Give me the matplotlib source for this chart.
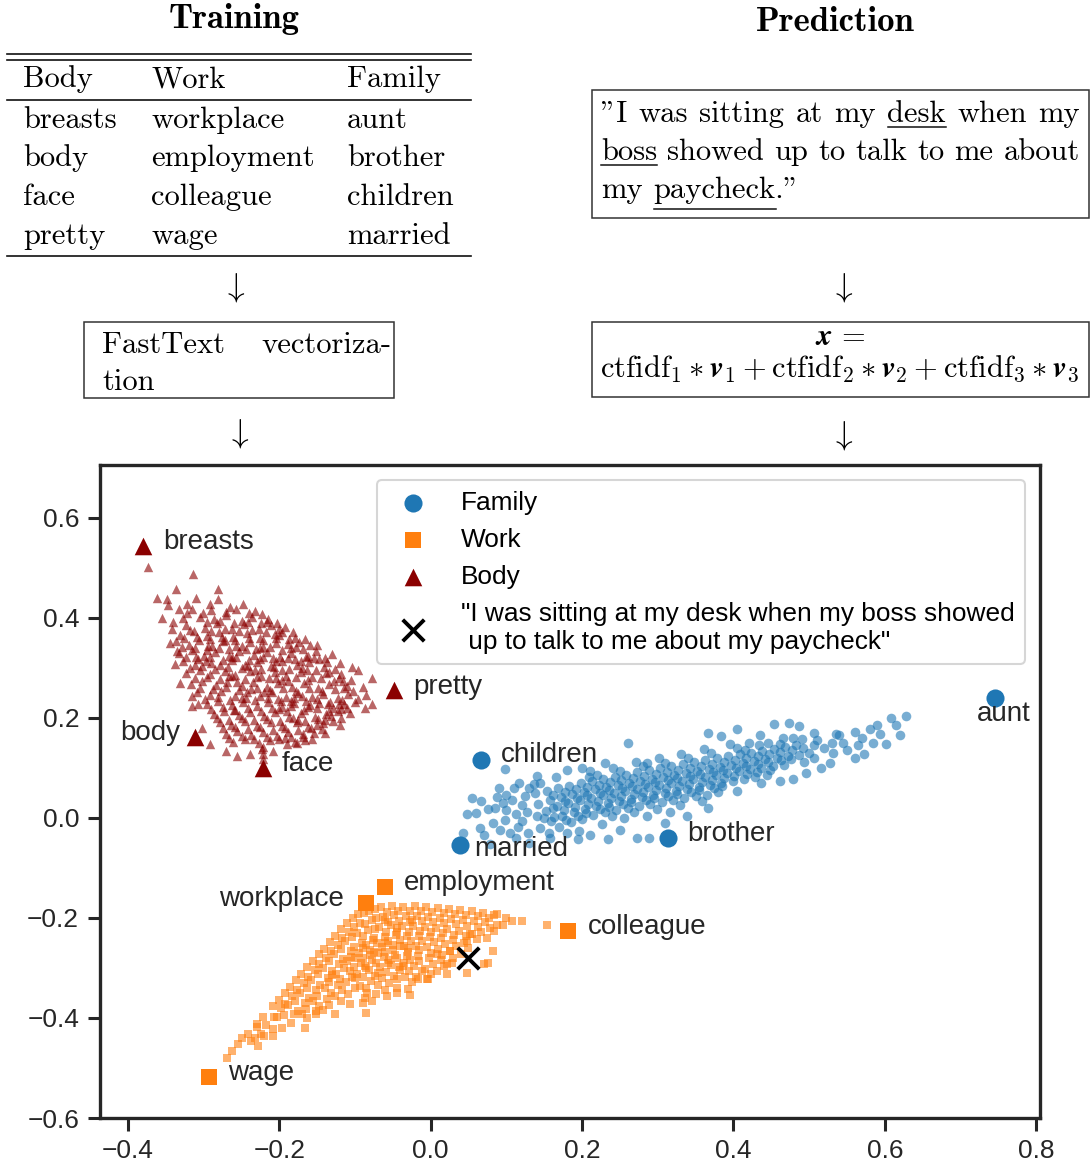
import numpy as np
import matplotlib
matplotlib.use("Agg")
import matplotlib.pyplot as plt
from matplotlib.transforms import Affine2D
from matplotlib.patches import Rectangle
from matplotlib.lines import Line2D
from matplotlib.ticker import FuncFormatter

W, H = 1090, 1167

# seed words per category (table columns and labelled points)
BODY_WORDS = ["breasts", "body", "face", "pretty"]
WORK_WORDS = ["workplace", "employment", "colleague", "wage"]
FAMILY_WORDS = ["aunt", "brother", "children", "married"]

# 2-d projection of the seed word vectors
BODY_SEED_X = [-0.380, -0.312, -0.222, -0.048]
BODY_SEED_Y = [0.544, 0.162, 0.100, 0.256]
WORK_SEED_X = [-0.086, -0.061, 0.182, -0.293]
WORK_SEED_Y = [-0.170, -0.138, -0.226, -0.518]
FAMILY_SEED_X = [0.745, 0.313, 0.066, 0.038]
FAMILY_SEED_Y = [0.240, -0.040, 0.116, -0.054]

SENTENCE = ('"I was sitting at my desk when my boss showed\n'
            ' up to talk to me about my paycheck"')
SENTENCE_X, SENTENCE_Y = 0.049, -0.280

# projected vectors of the expanded vocabulary
BODY_CLOUD = [
    (-0.373, 0.502), (-0.314, 0.488), (-0.281, 0.458), (-0.337, 0.458), (-0.362, 0.440),
    (-0.349, 0.438), (-0.310, 0.440), (-0.281, 0.438), (-0.248, 0.428), (-0.322, 0.428),
    (-0.347, 0.425), (-0.292, 0.428), (-0.333, 0.418), (-0.232, 0.414), (-0.223, 0.408),
    (-0.265, 0.422), (-0.257, 0.418), (-0.301, 0.410), (-0.322, 0.410), (-0.203, 0.390),
    (-0.193, 0.382), (-0.182, 0.372), (-0.166, 0.358), (-0.131, 0.328), (-0.162, 0.324),
    (-0.104, 0.302), (-0.096, 0.296), (-0.078, 0.280), (-0.114, 0.260), (-0.096, 0.238),
    (-0.077, 0.228), (-0.087, 0.220), (-0.110, 0.220), (-0.121, 0.228), (-0.136, 0.228),
    (-0.107, 0.210), (-0.123, 0.214), (-0.342, 0.378), (-0.345, 0.350), (-0.335, 0.334),
    (-0.338, 0.308), (-0.331, 0.270), (-0.316, 0.244), (-0.316, 0.224), (-0.308, 0.228),
    (-0.302, 0.180), (-0.292, 0.148), (-0.270, 0.134), (-0.256, 0.124), (-0.239, 0.128),
    (-0.223, 0.138), (-0.222, 0.128), (-0.209, 0.134), (-0.190, 0.148), (-0.177, 0.150),
    (-0.157, 0.158), (-0.169, 0.168), (-0.144, 0.178), (-0.222, 0.118), (-0.221, 0.142),
    (-0.305, 0.402), (-0.286, 0.397), (-0.271, 0.405), (-0.250, 0.394), (-0.236, 0.401),
    (-0.217, 0.392), (-0.324, 0.386), (-0.298, 0.380), (-0.283, 0.389), (-0.263, 0.378),
    (-0.247, 0.387), (-0.227, 0.377), (-0.211, 0.385), (-0.196, 0.371), (-0.331, 0.366),
    (-0.313, 0.373), (-0.296, 0.363), (-0.280, 0.371), (-0.261, 0.362), (-0.243, 0.370),
    (-0.225, 0.360), (-0.206, 0.368), (-0.187, 0.358), (-0.174, 0.351), (-0.337, 0.353),
    (-0.319, 0.346), (-0.306, 0.355), (-0.289, 0.344), (-0.275, 0.353), (-0.257, 0.343),
    (-0.239, 0.351), (-0.221, 0.342), (-0.205, 0.350), (-0.185, 0.340), (-0.169, 0.337),
    (-0.151, 0.333), (-0.333, 0.329), (-0.315, 0.335), (-0.299, 0.324), (-0.285, 0.332),
    (-0.267, 0.323), (-0.253, 0.333), (-0.233, 0.325), (-0.216, 0.331), (-0.199, 0.322),
    (-0.184, 0.330), (-0.165, 0.321), (-0.147, 0.317), (-0.327, 0.313), (-0.311, 0.305),
    (-0.297, 0.314), (-0.278, 0.306), (-0.263, 0.315), (-0.245, 0.305), (-0.230, 0.312),
    (-0.211, 0.304), (-0.196, 0.313), (-0.177, 0.305), (-0.161, 0.311), (-0.141, 0.301),
    (-0.127, 0.297), (-0.323, 0.289), (-0.305, 0.295), (-0.291, 0.287), (-0.272, 0.294),
    (-0.258, 0.285), (-0.239, 0.293), (-0.224, 0.284), (-0.206, 0.292), (-0.191, 0.283),
    (-0.172, 0.291), (-0.157, 0.282), (-0.138, 0.289), (-0.121, 0.279), (-0.317, 0.267),
    (-0.302, 0.273), (-0.284, 0.265), (-0.269, 0.272), (-0.250, 0.263), (-0.235, 0.271),
    (-0.217, 0.262), (-0.202, 0.270), (-0.183, 0.261), (-0.168, 0.269), (-0.149, 0.260),
    (-0.134, 0.267), (-0.116, 0.273), (-0.309, 0.251), (-0.291, 0.245), (-0.277, 0.253),
    (-0.258, 0.244), (-0.243, 0.252), (-0.225, 0.243), (-0.210, 0.251), (-0.191, 0.242),
    (-0.176, 0.250), (-0.157, 0.241), (-0.142, 0.248), (-0.123, 0.239), (-0.109, 0.247),
    (-0.295, 0.227), (-0.281, 0.233), (-0.263, 0.225), (-0.248, 0.232), (-0.229, 0.223),
    (-0.215, 0.231), (-0.196, 0.222), (-0.181, 0.230), (-0.162, 0.221), (-0.147, 0.229),
    (-0.129, 0.220), (-0.114, 0.227), (-0.287, 0.207), (-0.273, 0.213), (-0.254, 0.205),
    (-0.239, 0.212), (-0.220, 0.203), (-0.206, 0.211), (-0.187, 0.202), (-0.172, 0.210),
    (-0.153, 0.201), (-0.138, 0.208), (-0.119, 0.199), (-0.279, 0.191), (-0.264, 0.185),
    (-0.245, 0.193), (-0.230, 0.184), (-0.211, 0.192), (-0.196, 0.183), (-0.177, 0.191),
    (-0.162, 0.182), (-0.143, 0.189), (-0.129, 0.193), (-0.271, 0.167), (-0.256, 0.173),
    (-0.237, 0.165), (-0.222, 0.172), (-0.203, 0.163), (-0.188, 0.171), (-0.169, 0.162),
    (-0.154, 0.169), (-0.261, 0.151), (-0.246, 0.157), (-0.227, 0.149), (-0.212, 0.156),
    (-0.193, 0.159), (-0.179, 0.152), (-0.280, 0.340), (-0.262, 0.322), (-0.244, 0.338),
    (-0.226, 0.318), (-0.250, 0.300), (-0.232, 0.296), (-0.214, 0.280), (-0.196, 0.276),
    (-0.238, 0.258), (-0.220, 0.252), (-0.202, 0.238), (-0.184, 0.234), (-0.266, 0.284),
    (-0.290, 0.310), (-0.272, 0.356), (-0.256, 0.272), (-0.210, 0.220), (-0.190, 0.214),
    (-0.170, 0.244), (-0.160, 0.226), (-0.296, 0.336), (-0.310, 0.322), (-0.226, 0.340),
    (-0.208, 0.320), (-0.244, 0.240), (-0.175, 0.196), (-0.260, 0.216), (-0.196, 0.296),
    (-0.180, 0.318), (-0.164, 0.296),
    (-0.296, 0.391), (-0.279, 0.393), (-0.260, 0.390), (-0.242, 0.392), (-0.224, 0.389),
    (-0.318, 0.376), (-0.290, 0.374), (-0.272, 0.377), (-0.254, 0.373), (-0.236, 0.376),
    (-0.218, 0.372), (-0.200, 0.378), (-0.326, 0.359), (-0.309, 0.361), (-0.292, 0.357),
    (-0.276, 0.362), (-0.258, 0.356), (-0.240, 0.360), (-0.222, 0.355), (-0.204, 0.359),
    (-0.188, 0.348), (-0.328, 0.341), (-0.311, 0.339), (-0.294, 0.343), (-0.266, 0.338),
    (-0.250, 0.344), (-0.231, 0.337), (-0.213, 0.342), (-0.196, 0.336), (-0.178, 0.341),
    (-0.160, 0.345), (-0.323, 0.321), (-0.307, 0.317), (-0.291, 0.322), (-0.274, 0.316),
    (-0.257, 0.321), (-0.240, 0.315), (-0.222, 0.322), (-0.205, 0.314), (-0.188, 0.319),
    (-0.171, 0.314), (-0.154, 0.320), (-0.137, 0.312), (-0.318, 0.299), (-0.302, 0.303),
    (-0.285, 0.298), (-0.268, 0.302), (-0.241, 0.304), (-0.224, 0.297), (-0.207, 0.302),
    (-0.187, 0.297), (-0.170, 0.300), (-0.152, 0.296), (-0.135, 0.292), (-0.118, 0.288),
    (-0.312, 0.279), (-0.296, 0.282), (-0.279, 0.278), (-0.262, 0.283), (-0.246, 0.277),
    (-0.229, 0.281), (-0.205, 0.279), (-0.188, 0.274), (-0.178, 0.281), (-0.162, 0.276),
    (-0.145, 0.279), (-0.128, 0.273), (-0.110, 0.264), (-0.305, 0.260), (-0.288, 0.257),
    (-0.271, 0.261), (-0.254, 0.256), (-0.229, 0.259), (-0.212, 0.255), (-0.195, 0.260),
    (-0.178, 0.254), (-0.161, 0.259), (-0.144, 0.253), (-0.127, 0.257), (-0.103, 0.254),
    (-0.298, 0.238), (-0.281, 0.241), (-0.265, 0.236), (-0.250, 0.240), (-0.232, 0.235),
    (-0.215, 0.240), (-0.198, 0.234), (-0.181, 0.239), (-0.165, 0.233), (-0.150, 0.238),
    (-0.133, 0.232), (-0.117, 0.236), (-0.290, 0.218), (-0.275, 0.221), (-0.258, 0.216),
    (-0.241, 0.220), (-0.224, 0.214), (-0.200, 0.218), (-0.184, 0.224), (-0.167, 0.216),
    (-0.150, 0.219), (-0.134, 0.213), (-0.118, 0.217), (-0.283, 0.199), (-0.266, 0.196),
    (-0.250, 0.200), (-0.233, 0.195), (-0.216, 0.198), (-0.199, 0.193), (-0.182, 0.199),
    (-0.166, 0.194), (-0.149, 0.197), (-0.132, 0.203), (-0.275, 0.179), (-0.258, 0.182),
    (-0.242, 0.177), (-0.225, 0.181), (-0.208, 0.176), (-0.192, 0.180), (-0.175, 0.175),
    (-0.158, 0.179), (-0.140, 0.170), (-0.266, 0.160), (-0.250, 0.163), (-0.233, 0.158),
    (-0.216, 0.162), (-0.200, 0.157), (-0.184, 0.161), (-0.166, 0.156), (-0.355, 0.400),
    (-0.340, 0.392), (-0.327, 0.400), (-0.315, 0.418), (-0.290, 0.415), (-0.270, 0.412),
    (-0.240, 0.410), (-0.215, 0.398), (-0.200, 0.365), (-0.180, 0.360), (-0.150, 0.345),
    (-0.140, 0.320), (-0.120, 0.310), (-0.105, 0.275), (-0.090, 0.262), (-0.085, 0.245),
    (-0.100, 0.232), (-0.140, 0.195), (-0.120, 0.185), (-0.150, 0.185),
]

FAMILY_CLOUD = [
    (0.075, 0.018), (0.082, -0.010), (0.088, 0.042), (0.095, 0.030), (0.098, -0.004),
    (0.092, -0.024), (0.108, 0.036), (0.112, 0.008), (0.115, -0.018), (0.110, 0.060),
    (0.124, 0.044), (0.127, 0.012), (0.121, -0.006), (0.129, -0.030), (0.138, 0.050),
    (0.142, 0.028), (0.140, 0.004), (0.145, -0.020), (0.136, 0.068), (0.153, 0.054),
    (0.157, 0.036), (0.152, 0.014), (0.159, -0.006), (0.156, -0.030), (0.168, 0.060),
    (0.172, 0.042), (0.167, 0.024), (0.174, 0.004), (0.170, -0.018), (0.165, 0.082),
    (0.183, 0.064), (0.187, 0.048), (0.182, 0.030), (0.189, 0.012), (0.185, -0.008),
    (0.198, 0.070), (0.202, 0.052), (0.197, 0.036), (0.204, 0.018), (0.200, -0.002),
    (0.196, -0.026), (0.213, 0.074), (0.217, 0.058), (0.212, 0.040), (0.219, 0.024),
    (0.215, 0.006), (0.211, 0.094), (0.228, 0.078), (0.232, 0.062), (0.227, 0.046),
    (0.234, 0.030), (0.230, 0.012), (0.226, -0.012), (0.243, 0.082), (0.247, 0.066),
    (0.242, 0.050), (0.249, 0.034), (0.245, 0.016), (0.241, 0.100), (0.258, 0.086),
    (0.262, 0.070), (0.257, 0.054), (0.264, 0.038), (0.260, 0.020), (0.256, 0.000),
    (0.273, 0.092), (0.277, 0.074), (0.272, 0.058), (0.279, 0.042), (0.275, 0.024),
    (0.271, 0.112), (0.288, 0.096), (0.292, 0.078), (0.287, 0.062), (0.294, 0.046),
    (0.290, 0.028), (0.286, 0.004), (0.303, 0.100), (0.307, 0.082), (0.302, 0.066),
    (0.309, 0.050), (0.305, 0.032), (0.301, 0.120), (0.318, 0.104), (0.322, 0.086),
    (0.317, 0.070), (0.324, 0.054), (0.320, 0.036), (0.316, 0.012), (0.333, 0.108),
    (0.337, 0.090), (0.332, 0.074), (0.339, 0.058), (0.335, 0.040), (0.331, 0.128),
    (0.348, 0.112), (0.352, 0.094), (0.347, 0.078), (0.354, 0.062), (0.350, 0.044),
    (0.363, 0.116), (0.367, 0.098), (0.362, 0.082), (0.369, 0.066), (0.365, 0.046),
    (0.361, 0.138), (0.378, 0.120), (0.382, 0.102), (0.377, 0.086), (0.384, 0.070),
    (0.380, 0.052), (0.393, 0.124), (0.397, 0.106), (0.392, 0.090), (0.399, 0.074),
    (0.395, 0.148), (0.408, 0.128), (0.412, 0.110), (0.407, 0.094), (0.414, 0.078),
    (0.423, 0.130), (0.427, 0.114), (0.422, 0.098), (0.429, 0.082), (0.438, 0.134),
    (0.442, 0.118), (0.437, 0.100), (0.444, 0.086), (0.453, 0.138), (0.457, 0.120),
    (0.452, 0.104), (0.468, 0.142), (0.472, 0.124), (0.467, 0.106), (0.483, 0.146),
    (0.487, 0.126), (0.628, 0.204), (0.608, 0.200), (0.593, 0.168), (0.580, 0.178),
    (0.560, 0.172), (0.536, 0.168), (0.507, 0.170), (0.487, 0.184), (0.474, 0.190),
    (0.454, 0.188), (0.602, 0.148), (0.573, 0.128), (0.560, 0.120), (0.527, 0.110),
    (0.515, 0.100), (0.496, 0.090), (0.478, 0.078), (0.461, 0.074), (0.405, 0.178),
    (0.384, 0.164), (0.366, 0.170), (0.260, 0.150), (0.286, 0.110), (0.520, 0.140),
    (0.545, 0.150), (0.500, 0.130), (0.585, 0.150), (0.550, 0.135), (0.510, 0.155),
    (0.465, 0.160), (0.435, 0.165), (0.420, 0.150), (0.048, 0.008), (0.054, 0.040),
    (0.042, -0.030), (0.067, 0.034), (0.098, 0.098), (0.117, 0.070), (0.140, 0.084),
    (0.078, -0.052), (0.113, -0.040), (0.157, -0.040), (0.194, -0.042), (0.234, -0.042),
    (0.273, -0.040), (0.289, -0.040), (0.338, 0.004), (0.366, 0.020), (0.404, 0.054),
    (0.437, 0.070), (0.065, -0.020), (0.090, 0.060), (0.130, -0.050), (0.180, -0.030),
    (0.210, -0.035), (0.250, -0.025), (0.310, -0.010), (0.200, 0.100), (0.230, 0.110),
    (0.180, 0.095),
    (0.162, 0.045), (0.161, 0.020), (0.163, 0.002), (0.177, 0.052), (0.178, 0.033),
    (0.176, 0.015), (0.179, -0.005), (0.192, 0.058), (0.193, 0.040), (0.191, 0.022),
    (0.194, 0.004), (0.207, 0.062), (0.206, 0.045), (0.208, 0.028), (0.205, 0.010),
    (0.209, 0.082), (0.222, 0.066), (0.223, 0.050), (0.221, 0.034), (0.224, 0.018),
    (0.220, 0.086), (0.237, 0.072), (0.236, 0.055), (0.238, 0.040), (0.235, 0.022),
    (0.239, 0.004), (0.252, 0.076), (0.253, 0.060), (0.251, 0.044), (0.254, 0.028),
    (0.250, 0.094), (0.267, 0.080), (0.266, 0.064), (0.268, 0.048), (0.265, 0.032),
    (0.269, 0.012), (0.282, 0.084), (0.283, 0.068), (0.281, 0.052), (0.284, 0.036),
    (0.280, 0.104), (0.297, 0.088), (0.296, 0.072), (0.298, 0.056), (0.295, 0.040),
    (0.299, 0.018), (0.312, 0.092), (0.313, 0.076), (0.311, 0.060), (0.314, 0.044),
    (0.310, 0.110), (0.327, 0.096), (0.326, 0.080), (0.328, 0.064), (0.325, 0.048),
    (0.329, 0.026), (0.342, 0.100), (0.343, 0.084), (0.341, 0.068), (0.344, 0.052),
    (0.340, 0.120), (0.357, 0.104), (0.356, 0.088), (0.358, 0.072), (0.355, 0.056),
    (0.359, 0.034), (0.372, 0.108), (0.373, 0.092), (0.371, 0.076), (0.374, 0.060),
    (0.370, 0.130), (0.387, 0.112), (0.386, 0.096), (0.388, 0.080), (0.385, 0.064),
    (0.402, 0.116), (0.403, 0.100), (0.401, 0.084), (0.404, 0.140), (0.417, 0.120),
    (0.416, 0.104), (0.418, 0.088), (0.415, 0.136), (0.432, 0.124), (0.433, 0.108),
    (0.431, 0.092), (0.434, 0.146), (0.447, 0.128), (0.446, 0.112), (0.448, 0.096),
    (0.445, 0.150), (0.462, 0.132), (0.463, 0.116), (0.461, 0.148), (0.477, 0.136),
    (0.476, 0.118), (0.478, 0.160), (0.492, 0.140), (0.493, 0.112), (0.491, 0.158),
    (0.507, 0.146), (0.506, 0.120), (0.530, 0.150), (0.532, 0.130), (0.540, 0.165),
    (0.565, 0.145), (0.570, 0.160), (0.590, 0.185), (0.615, 0.185), (0.620, 0.165),
    (0.060, 0.010), (0.070, -0.035), (0.085, 0.020), (0.100, 0.015), (0.105, -0.030),
    (0.120, 0.025), (0.130, 0.060), (0.150, 0.000), (0.145, 0.070), (0.100, 0.045),
]

WORK_CLOUD = [
    (-0.262, -0.466), (-0.255, -0.452), (-0.242, -0.432), (-0.238, -0.446), (-0.222, -0.398),
    (-0.218, -0.414), (-0.224, -0.432), (-0.201, -0.364), (-0.198, -0.380), (-0.203, -0.398),
    (-0.196, -0.420), (-0.186, -0.338), (-0.183, -0.356), (-0.188, -0.374), (-0.181, -0.392),
    (-0.184, -0.410), (-0.171, -0.312), (-0.168, -0.330), (-0.173, -0.350), (-0.166, -0.370),
    (-0.170, -0.392), (-0.156, -0.287), (-0.153, -0.305), (-0.158, -0.325), (-0.151, -0.345),
    (-0.155, -0.366), (-0.152, -0.386), (-0.141, -0.262), (-0.138, -0.280), (-0.143, -0.300),
    (-0.136, -0.320), (-0.140, -0.340), (-0.137, -0.362), (-0.142, -0.384), (-0.126, -0.236),
    (-0.123, -0.254), (-0.128, -0.272), (-0.121, -0.292), (-0.125, -0.312), (-0.122, -0.334),
    (-0.127, -0.356), (-0.111, -0.210), (-0.108, -0.228), (-0.113, -0.246), (-0.106, -0.266),
    (-0.110, -0.286), (-0.107, -0.306), (-0.112, -0.328), (-0.109, -0.352), (-0.096, -0.192),
    (-0.093, -0.210), (-0.098, -0.230), (-0.091, -0.250), (-0.095, -0.270), (-0.092, -0.290),
    (-0.097, -0.312), (-0.094, -0.336), (-0.090, -0.370), (-0.081, -0.186), (-0.078, -0.204),
    (-0.083, -0.224), (-0.076, -0.244), (-0.080, -0.264), (-0.077, -0.284), (-0.082, -0.304),
    (-0.079, -0.326), (-0.084, -0.350), (-0.066, -0.178), (-0.063, -0.198), (-0.068, -0.218),
    (-0.061, -0.238), (-0.065, -0.258), (-0.062, -0.278), (-0.067, -0.298), (-0.064, -0.320),
    (-0.060, -0.344), (-0.051, -0.176), (-0.048, -0.194), (-0.053, -0.214), (-0.046, -0.234),
    (-0.050, -0.254), (-0.047, -0.274), (-0.052, -0.294), (-0.049, -0.316), (-0.045, -0.340),
    (-0.036, -0.178), (-0.033, -0.196), (-0.038, -0.216), (-0.031, -0.236), (-0.035, -0.256),
    (-0.032, -0.276), (-0.037, -0.296), (-0.034, -0.318), (-0.021, -0.176), (-0.018, -0.196),
    (-0.023, -0.216), (-0.016, -0.236), (-0.020, -0.256), (-0.017, -0.276), (-0.022, -0.296),
    (-0.019, -0.318), (-0.006, -0.178), (-0.003, -0.198), (-0.008, -0.218), (-0.001, -0.238),
    (-0.005, -0.258), (-0.002, -0.280), (-0.007, -0.302), (-0.004, -0.322), (0.009, -0.180),
    (0.012, -0.200), (0.007, -0.220), (0.014, -0.240), (0.010, -0.262), (0.013, -0.284),
    (0.008, -0.306), (0.024, -0.182), (0.027, -0.202), (0.022, -0.222), (0.029, -0.244),
    (0.025, -0.266), (0.028, -0.290), (0.039, -0.184), (0.042, -0.204), (0.037, -0.226),
    (0.044, -0.250), (0.040, -0.272), (0.054, -0.186), (0.057, -0.206), (0.052, -0.232),
    (0.069, -0.190), (0.072, -0.208), (0.067, -0.228), (0.084, -0.194), (0.087, -0.214),
    (-0.090, -0.260), (-0.070, -0.270), (-0.050, -0.265), (-0.030, -0.260), (-0.060, -0.250),
    (-0.040, -0.245), (-0.080, -0.275), (-0.100, -0.280), (-0.055, -0.285), (-0.035, -0.290),
    (-0.075, -0.240), (-0.015, -0.265), (-0.045, -0.220), (-0.025, -0.205), (-0.060, -0.205),
    (-0.085, -0.300), (-0.115, -0.300), (-0.130, -0.315), (-0.100, -0.320), (-0.070, -0.310),
    (-0.040, -0.305), (-0.269, -0.480), (-0.228, -0.456), (-0.230, -0.412), (-0.220, -0.436),
    (-0.209, -0.436), (-0.209, -0.422), (-0.166, -0.420), (-0.164, -0.400), (-0.151, -0.392),
    (-0.127, -0.392), (-0.107, -0.372), (-0.085, -0.390), (-0.077, -0.366), (-0.058, -0.356),
    (-0.044, -0.350), (-0.028, -0.354), (-0.030, -0.342), (-0.017, -0.322), (-0.005, -0.322),
    (0.021, -0.312), (0.022, -0.292), (0.048, -0.310), (0.071, -0.292), (0.075, -0.290),
    (0.082, -0.266), (0.074, -0.240), (0.084, -0.226), (0.107, -0.206), (0.120, -0.206),
    (0.153, -0.214), (0.087, -0.192), (0.055, -0.232), (0.048, -0.246), (0.025, -0.266),
    (0.008, -0.272), (0.100, -0.200), (0.095, -0.215),
    (-0.103, -0.200), (-0.102, -0.218), (-0.104, -0.238), (-0.101, -0.258), (-0.105, -0.278),
    (-0.102, -0.298), (-0.104, -0.318), (-0.100, -0.340), (-0.088, -0.190), (-0.087, -0.212),
    (-0.089, -0.236), (-0.086, -0.254), (-0.090, -0.280), (-0.087, -0.296), (-0.089, -0.318),
    (-0.085, -0.340), (-0.087, -0.360), (-0.073, -0.182), (-0.072, -0.200), (-0.074, -0.222),
    (-0.071, -0.250), (-0.075, -0.268), (-0.072, -0.290), (-0.074, -0.316), (-0.070, -0.334),
    (-0.072, -0.352), (-0.058, -0.188), (-0.057, -0.208), (-0.059, -0.228), (-0.056, -0.246),
    (-0.060, -0.268), (-0.057, -0.290), (-0.059, -0.308), (-0.055, -0.330), (-0.043, -0.186),
    (-0.042, -0.206), (-0.044, -0.228), (-0.041, -0.256), (-0.045, -0.280), (-0.042, -0.298),
    (-0.044, -0.322), (-0.028, -0.186), (-0.027, -0.208), (-0.029, -0.228), (-0.026, -0.246),
    (-0.030, -0.268), (-0.027, -0.284), (-0.029, -0.306), (-0.025, -0.328), (-0.013, -0.186),
    (-0.012, -0.206), (-0.014, -0.226), (-0.011, -0.246), (-0.015, -0.286), (-0.012, -0.306),
    (0.002, -0.188), (0.003, -0.208), (0.001, -0.228), (0.004, -0.248), (0.000, -0.270),
    (0.003, -0.292), (0.001, -0.312), (0.017, -0.190), (0.018, -0.210), (0.016, -0.230),
    (0.019, -0.252), (0.015, -0.274), (0.018, -0.296), (0.032, -0.192), (0.033, -0.212),
    (0.031, -0.234), (0.034, -0.256), (0.030, -0.280), (0.047, -0.194), (0.048, -0.216),
    (0.046, -0.236), (0.049, -0.260), (0.062, -0.196), (0.063, -0.218), (0.061, -0.242),
    (0.077, -0.200), (0.078, -0.220), (-0.118, -0.222), (-0.117, -0.240), (-0.119, -0.262),
    (-0.116, -0.282), (-0.120, -0.322), (-0.117, -0.344), (-0.119, -0.366), (-0.133, -0.248),
    (-0.132, -0.266), (-0.134, -0.286), (-0.131, -0.306), (-0.135, -0.328), (-0.132, -0.350),
    (-0.134, -0.374), (-0.148, -0.272), (-0.147, -0.292), (-0.149, -0.312), (-0.146, -0.334),
    (-0.150, -0.356), (-0.147, -0.376), (-0.163, -0.298), (-0.162, -0.318), (-0.164, -0.340),
    (-0.161, -0.360), (-0.165, -0.382), (-0.178, -0.324), (-0.177, -0.344), (-0.179, -0.366),
    (-0.176, -0.386), (-0.193, -0.350), (-0.192, -0.372), (-0.194, -0.394), (-0.208, -0.376),
    (-0.207, -0.398), (-0.230, -0.418), (-0.232, -0.440), (-0.250, -0.440),
]

# table rows of the training panel
TABLE_HEADER = ["Body", "Work", "Family"]

FAMILY_C = "#1f77b4"
WORK_C = "#ff7f0e"
BODY_C = "#8b0000"
TEXT_C = "#262626"

plt.rcParams["font.family"] = ["Liberation Sans", "DejaVu Sans"]
plt.rcParams["mathtext.fontset"] = "cm"

fig = plt.figure(figsize=(W / 100, H / 100), dpi=100)
# pixel coordinates with the origin at the top-left corner
px = Affine2D().scale(1, -1).translate(0, H)
SERIF = ["cmr10", "DejaVu Serif"]
BOLD = ["cmb10", "DejaVu Serif"]
FS = 22


def ftext(x, y, s, **kw):
    kw.setdefault("family", SERIF)
    kw.setdefault("fontsize", FS)
    kw.setdefault("va", "baseline")
    return fig.text(x, y, s, transform=px, **kw)


def hline(x0, x1, y, lw=1.2):
    fig.add_artist(Line2D([x0, x1], [y, y], transform=px, color="#111111", lw=lw))


def box(x0, y0, x1, y1):
    fig.add_artist(Rectangle((x0, y0), x1 - x0, y1 - y0, transform=px,
                             fill=False, ec="#333333", lw=1.1))


renderer = fig.canvas.get_renderer()


def width_of(s):
    t = ftext(0, 0, s)
    w = t.get_window_extent(renderer).width
    t.remove()
    return w


def text_line(words, y, x0, x1=None, gap=11, underline=None):
    """Place words on one line, justified between x0 and x1 when x1 is given."""
    underline = underline or {}
    widths = [width_of(w) for w in words]
    if x1 is not None and len(words) > 1:
        gap = (x1 - x0 - sum(widths)) / (len(words) - 1)
    x = x0
    for w, wd in zip(words, widths):
        ftext(x, y, w)
        if w in underline:
            part, drop = underline[w]
            hline(x, x + width_of(part), y + drop, lw=1.1)
        x += wd + gap


# ---- training panel ----
ftext(234, 28, "Training", family=BOLD, ha="center", fontsize=25)
hline(7, 471, 54)
hline(7, 471, 60)
hline(7, 471, 100)
hline(7, 471, 256)
col_x = [23, 151, 347]
for cx, head in zip(col_x, TABLE_HEADER):
    ftext(cx, 87, head)
for i, row in enumerate(zip(BODY_WORDS, WORK_WORDS, FAMILY_WORDS)):
    for cx, word in zip(col_x, row):
        ftext(cx, 128 + i * 38.5, word)

ftext(234, 288, r"$\downarrow$", ha="center", va="center", fontsize=24)
box(84, 322, 394, 398)
text_line(["FastText", "vectoriza-"], 353, 102, 391)
text_line(["tion"], 390, 102)
ftext(238, 433, r"$\downarrow$", ha="center", va="center", fontsize=24)

# ---- prediction panel ----
ftext(835, 31, "Prediction", family=BOLD, ha="center", fontsize=25)
box(592, 90, 1089, 218)
text_line(['"I', "was", "sitting", "at", "my", "desk", "when", "my"], 122, 601, 1080,
          underline={"desk": ("desk", 5)})
text_line(["boss", "showed", "up", "to", "talk", "to", "me", "about"], 160, 601, 1080,
          underline={"boss": ("boss", 5)})
text_line(["my", 'paycheck."'], 198, 601,
          underline={'paycheck."': ("paycheck", 11)})

ftext(842, 288, r"$\downarrow$", ha="center", va="center", fontsize=24)
box(592, 322, 1089, 397)
ftext(840, 345, r"$\boldsymbol{x}\,=$", ha="center")
ftext(840, 377, r"$\mathrm{ctfidf}_1 \ast \boldsymbol{v}_1 + \mathrm{ctfidf}_2 \ast "
      r"\boldsymbol{v}_2 + \mathrm{ctfidf}_3 \ast \boldsymbol{v}_3$", ha="center")
ftext(842, 436, r"$\downarrow$", ha="center", va="center", fontsize=24)

# ---- embedding scatter ----
ax = fig.add_axes([100 / W, 1 - 1118 / H, 940 / W, 653 / H])

fam = np.array(FAMILY_CLOUD)
wrk = np.array(WORK_CLOUD)
bod = np.array(BODY_CLOUD)
ax.scatter(fam[:, 0], fam[:, 1], s=48, marker="o", color=FAMILY_C, alpha=0.6, lw=0)
ax.scatter(wrk[:, 0], wrk[:, 1], s=38, marker="s", color=WORK_C, alpha=0.6, lw=0)
ax.scatter(bod[:, 0], bod[:, 1], s=46, marker="^", color=BODY_C, alpha=0.6, lw=0)

ax.scatter(FAMILY_SEED_X, FAMILY_SEED_Y, s=170, marker="o", color=FAMILY_C, lw=0, label="Family")
ax.scatter(WORK_SEED_X, WORK_SEED_Y, s=140, marker="s", color=WORK_C, lw=0, label="Work")
ax.scatter(BODY_SEED_X, BODY_SEED_Y, s=160, marker="^", color=BODY_C, lw=0, label="Body")
ax.scatter([SENTENCE_X], [SENTENCE_Y], s=240, marker="x", color="black", lw=2.8, label=SENTENCE)

# label offsets in pixels (dx, dy, ha)
offsets = {
    "breasts": (20, 4, "left"), "body": (-14, 4, "right"), "face": (19, 4, "left"),
    "pretty": (19, 3, "left"), "workplace": (-22, 4, "right"), "employment": (19, 4, "left"),
    "colleague": (19, 4, "left"), "wage": (19, 4, "left"), "aunt": (9, -16, "center"),
    "brother": (20, 4, "left"), "children": (20, 5, "left"), "married": (15, -4, "left"),
}
for words, xs, ys in [(BODY_WORDS, BODY_SEED_X, BODY_SEED_Y),
                      (WORK_WORDS, WORK_SEED_X, WORK_SEED_Y),
                      (FAMILY_WORDS, FAMILY_SEED_X, FAMILY_SEED_Y)]:
    for w, x, y in zip(words, xs, ys):
        dx, dy, ha = offsets[w]
        ax.annotate(w, (x, y), xytext=(dx, dy), textcoords="offset pixels",
                    ha=ha, va="center", fontsize=20, color=TEXT_C)

ax.set_xlim(-0.437, 0.805)
ax.set_ylim(-0.6, 0.705)
ax.set_xticks(np.arange(-0.4, 0.81, 0.2))
ax.set_yticks(np.arange(-0.6, 0.61, 0.2))
fmt = FuncFormatter(lambda v, _: f"{v:.1f}".replace("-", "\u2212") if abs(v) > 1e-9 else "0.0")
ax.xaxis.set_major_formatter(fmt)
ax.yaxis.set_major_formatter(fmt)
for sp in ax.spines.values():
    sp.set_linewidth(2.4)
    sp.set_color(TEXT_C)
ax.tick_params(direction="out", length=9, width=2.2, color=TEXT_C,
               labelsize=19, labelcolor=TEXT_C, pad=6)

leg = ax.legend(loc="upper right", bbox_to_anchor=(0.984, 0.977), fontsize=18.9,
                frameon=True, fancybox=True, edgecolor="#cccccc", borderaxespad=0)
leg.get_frame().set_linewidth(1.5)

fig.savefig("out.png", dpi=100)
